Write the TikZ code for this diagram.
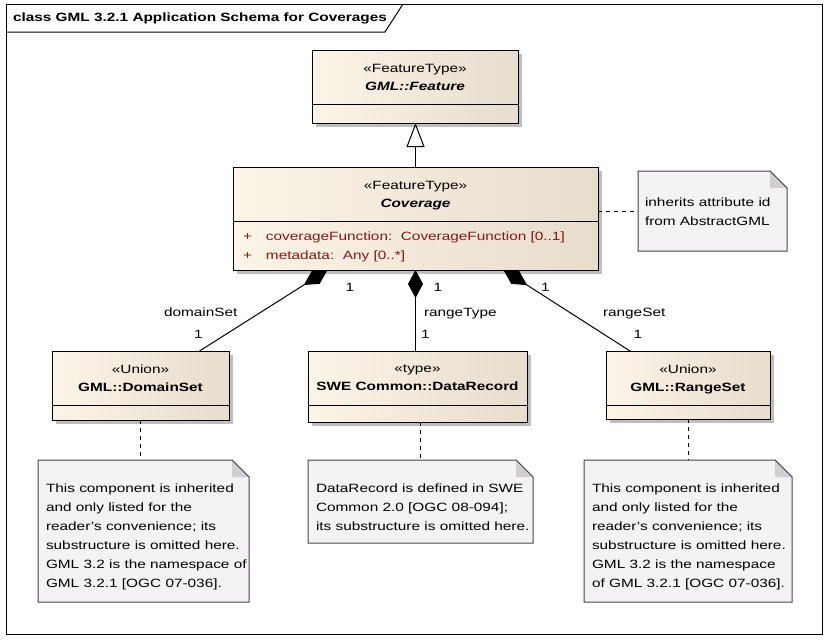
\documentclass[tikz,border=0pt]{standalone}
\usepackage{fontspec}
\setmainfont{Liberation Sans}[FakeStretch=1.28]
\usetikzlibrary{arrows.meta,positioning,shadows}

\definecolor{clsLeft}{RGB}{252,244,231}
\definecolor{clsRight}{RGB}{231,221,205}
\definecolor{noteFill}{RGB}{245,242,246}
\definecolor{noteLine}{RGB}{70,70,70}
\definecolor{foldFill}{RGB}{208,207,212}
\definecolor{attrRed}{RGB}{140,22,22}
\definecolor{shadowGray}{RGB}{190,190,190}

\begin{document}
\begin{tikzpicture}[x=1pt,y=-1pt,
  every node/.style={font=\fontsize{12}{18}\selectfont,inner sep=0pt,outer sep=0pt},
  cls/.style={draw,line width=1pt,left color=clsLeft,right color=clsRight,anchor=north west,
    drop shadow={shadow xshift=4pt,shadow yshift=-4pt,fill=shadowGray,opacity=1}},
  notebox/.style={anchor=north west},
  head/.style={anchor=north,align=center},
  notetext/.style={anchor=north west,align=left,font=\fontsize{12}{19}\selectfont},
  lbl/.style={anchor=base},
  dep/.style={line width=0.8pt,dash pattern=on 4pt off 4pt},
  comp/.style={line width=1pt,{Diamond[length=28pt,width=15pt]}-},
]
\useasboundingbox (0,0) rectangle (829,640);

% frame
\draw[line width=1pt] (6,4) rectangle (822,634);
\draw[line width=1pt] (6,32) -- (385,32) -- (403,4);
\node[anchor=base west,font=\fontsize{12}{14}\selectfont\bfseries] (title) at (13,21.5) {class GML 3.2.1 Application Schema for Coverages};

% classes
\node[cls,minimum width=206pt,minimum height=73pt] (feat) at (312,50) {};
\node[cls,minimum width=365pt,minimum height=103pt] (cov) at (233,167) {};
\node[cls,minimum width=177pt,minimum height=69pt] (dom) at (52,351) {};
\node[cls,minimum width=219pt,minimum height=71pt] (rec) at (308,351) {};
\node[cls,minimum width=164pt,minimum height=68pt] (rng) at (606,351) {};
\foreach \b in {feat,cov,dom,rec,rng}
  \draw[line width=1pt] ([yshift=-54pt]\b.north west) -- ([yshift=-54pt]\b.north east);

\node[head] (featHead) at ([yshift=-14pt]feat.north) {«FeatureType»\\\textbf{\textit{GML::Feature}}};
\node[head] (covHead) at ([yshift=-14.5pt]cov.north) {«FeatureType»\\\textbf{\textit{Coverage}}};
\node[head] (domHead) at ([yshift=-14pt]dom.north) {«Union»\\\textbf{GML::DomainSet}};
\node[head] (recHead) at ([yshift=-14pt]rec.north) {«type»\\\textbf{SWE Common::DataRecord}};
\node[head] (rngHead) at ([yshift=-14pt]rng.north) {«Union»\\\textbf{GML::RangeSet}};
\node[anchor=north west,align=left,text=attrRed,font=\fontsize{12}{19}\selectfont] (covAttr) at ([xshift=10pt,yshift=-65pt]cov.north west)
  {\makebox[23pt][l]{+}coverageFunction:\ \ CoverageFunction [0..1]\\\makebox[23pt][l]{+}metadata:\ \ Any [0..*]};

% notes
\node[notebox,minimum width=149pt,minimum height=80pt] (covNote) at (638,171) {};
\node[notebox,minimum width=211pt,minimum height=142pt] (domNote) at (38,460) {};
\node[notebox,minimum width=225pt,minimum height=83pt] (recNote) at (308,460) {};
\node[notebox,minimum width=208pt,minimum height=142pt] (rngNote) at (584,460) {};
\foreach \n in {covNote,domNote,recNote,rngNote}{
  \draw[line width=1pt,draw=noteLine,fill=noteFill] (\n.south west) -- (\n.north west) -- ([xshift=-17pt]\n.north east) -- ([yshift=-17pt]\n.north east) -- (\n.south east) -- cycle;
  \fill[foldFill] ([xshift=-17pt]\n.north east) -- ([xshift=-17pt,yshift=-17pt]\n.north east) -- ([yshift=-17pt]\n.north east) -- cycle;
  \draw[line width=1pt,draw=noteLine] ([xshift=-17pt]\n.north east) -- ([yshift=-17pt]\n.north east);
}
\node[notetext] (covText) at ([xshift=7pt,yshift=-27pt]covNote.north west) {inherits attribute id\\from AbstractGML};
\node[notetext] (domText) at ([xshift=8pt,yshift=-24pt]domNote.north west) {This component is inherited\\and only listed for the\\reader's convenience; its\\substructure is omitted here.\\GML 3.2 is the namespace of\\GML 3.2.1 [OGC 07-036].};
\node[notetext] (recText) at ([xshift=8pt,yshift=-24pt]recNote.north west) {DataRecord is defined in SWE\\Common 2.0 [OGC 08-094];\\its substructure is omitted here.};
\node[notetext] (rngText) at ([xshift=8pt,yshift=-24pt]rngNote.north west) {This component is inherited\\and only listed for the\\reader's convenience; its\\substructure is omitted here.\\GML 3.2 is the namespace\\of GML 3.2.1 [OGC 07-036].};

% connectors
\draw[line width=1pt,-{Triangle[open,fill=white,length=24pt,width=18pt]}] (cov.north) -- (cov.north |- feat.south);
\draw[dep] (cov.east |- covNote.west) -- (covNote.west);
\draw[dep] (dom.south) -- (dom.south |- domNote.north);
\draw[dep] (recNote.north |- rec.south) -- (recNote.north);
\draw[dep] (rng.south) -- (rngNote.north);

\draw[comp] ([xshift=-88pt]cov.south) -- ([xshift=59pt]dom.north);
\draw[comp] (cov.south) -- (cov.south |- rec.north);
\draw[comp] ([xshift=88pt]cov.south) -- ([xshift=-58pt]rng.north);

% multiplicities and roles
\node[lbl] (domOne) at (350,291.5) {1};
\node[lbl,anchor=base west] (domRole) at (164,316.5) {domainSet};
\node[lbl] (domEnd) at (198.5,338) {1};
\node[lbl] (recOne) at (438,291.5) {1};
\node[lbl,anchor=base west] (recRole) at (424,316.5) {rangeType};
\node[lbl] (recEnd) at (425.5,338) {1};
\node[lbl] (rngOne) at (545.5,291.5) {1};
\node[lbl,anchor=base west] (rngRole) at (603,316.5) {rangeSet};
\node[lbl] (rngEnd) at (638,338) {1};
\end{tikzpicture}
\end{document}
